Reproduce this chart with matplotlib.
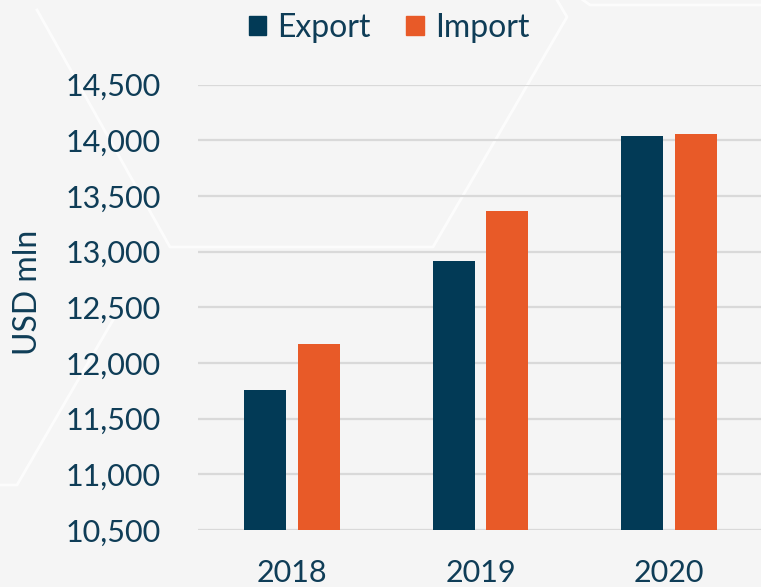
import numpy as np
import matplotlib
matplotlib.use("Agg")
import matplotlib.pyplot as plt
from matplotlib.patches import Patch
from matplotlib.lines import Line2D

years = ["2018", "2019", "2020"]
export = [11760, 12920, 14035]
imports = [12175, 13365, 14055]
yticks = [10500, 11000, 11500, 12000, 12500, 13000, 13500, 14000, 14500]

NAVY, ORANGE, TXT = "#023a56", "#e85a28", "#0f3d57"
BG, GRID = "#f5f5f5", "#d9d9d9"
W, H = 761, 587

plt.rcParams["font.family"] = ["Lato", "DejaVu Sans"]

fig = plt.figure(figsize=(W / 100, H / 100), dpi=100, facecolor=BG)

# faint decorative background lines (pixel coords, y from top)
deco = [
    [(37, 10), (170, 247), (433, 247), (567, 17), (557, 0)],
    [(113, 320), (17, 485), (0, 485)],
    [(583, 0), (590, 5), (761, 5)],
]
for pts in deco:
    xs = [p[0] / W for p in pts]
    ys = [1 - p[1] / H for p in pts]
    fig.add_artist(Line2D(xs, ys, color="white", lw=2, alpha=0.75,
                          transform=fig.transFigure, zorder=0))

ax = fig.add_axes([198 / W, 1 - 530 / H, 565 / W, (530 - 84.7) / H])
ax.set_facecolor("none")

x = np.arange(len(years))
bw, off = 0.223, 0.142
ax.bar(x - off, export, bw, color=NAVY, label="Export", zorder=3)
ax.bar(x + off, imports, bw, color=ORANGE, label="Import", zorder=3)

ax.set_xlim(-0.5, 2.5)
ax.set_ylim(10500, 14500)
ax.set_yticks(yticks)
ax.set_yticklabels([f"{v:,}" for v in yticks])
ax.set_xticks(x)
ax.set_xticklabels(years)
ax.tick_params(length=0, labelsize=22, colors=TXT)
ax.tick_params(axis="y", pad=27)
ax.tick_params(axis="x", pad=21)
ax.yaxis.grid(True, color=GRID, lw=1.6)
ax.set_axisbelow(True)
for s in ax.spines.values():
    s.set_visible(False)

fig.text(28 / W, 1 - 292 / H, "USD mln", rotation=90, ha="center",
         va="center", fontsize=23, color=TXT)

handles = [Patch(color=NAVY, label="Export"), Patch(color=ORANGE, label="Import")]
fig.legend(handles=handles, loc="center", bbox_to_anchor=(389 / W, 1 - 28 / H),
           ncol=2, frameon=False, fontsize=23, labelcolor=TXT,
           handlelength=0.55, handleheight=0.55, handletextpad=0.35,
           columnspacing=1.1)

fig.savefig("out.png", dpi=100, facecolor=BG)
